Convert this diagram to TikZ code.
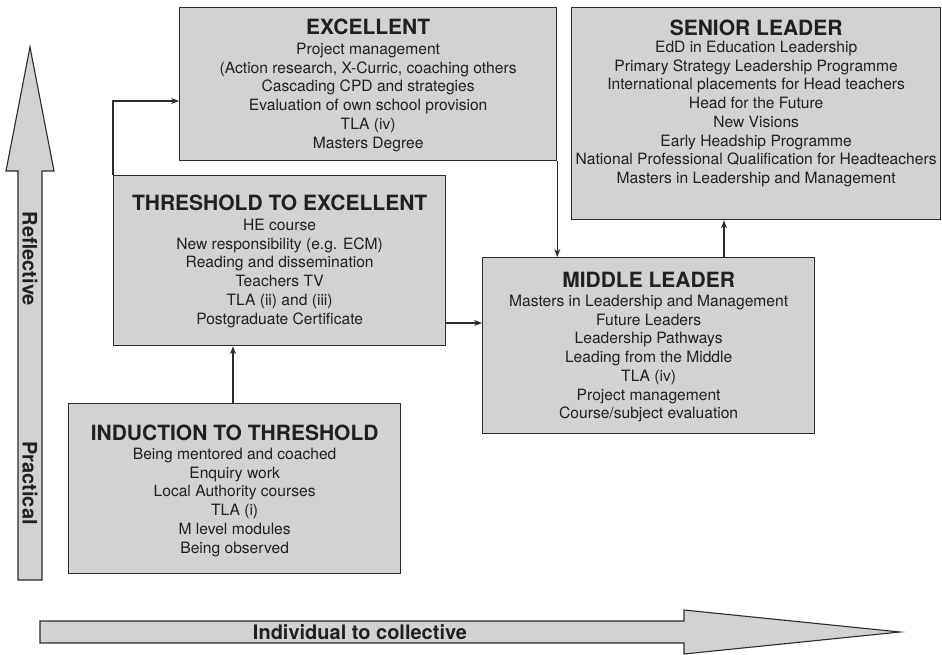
\documentclass[tikz,border=0pt]{standalone}
\usepackage{fontspec}
\setmainfont{TeX Gyre Heros}
\usetikzlibrary{arrows.meta}
\definecolor{boxfill}{HTML}{D1D2D4}
\definecolor{edgec}{HTML}{2B2B2B}
\definecolor{txt}{HTML}{231F20}
\begin{document}
\begin{tikzpicture}[x=1pt,y=-1pt,
  box/.style={draw=edgec,fill=boxfill,line width=1.3pt,inner sep=0,anchor=north west},
  ttl/.style={font=\fontsize{21}{23}\selectfont\bfseries,inner sep=0,text=txt},
  body/.style={font=\fontsize{15.6}{18.7}\selectfont,align=center,inner sep=0,anchor=north,text=txt},
  conn/.style={draw=edgec,line width=1.1pt,-{Stealth[length=8pt,width=6pt]}},
  bigarrow/.style={draw=edgec,fill=boxfill,line width=1.1pt,line join=miter},
  axislbl/.style={font=\fontsize{20}{22}\selectfont\bfseries,inner sep=0,text=txt}]
\useasboundingbox (0,0) rectangle (942,655);

% big arrows
\draw[bigarrow] (18,580) -- (18,171) -- (6,171) -- (30,47) -- (54,171) -- (42,171) -- (42,580) -- cycle;
\node[axislbl,rotate=-90] (refl) at (30,259) {Reflective};
\node[axislbl,rotate=-90] (prac) at (30,483) {Practical};
\draw[bigarrow] (40,621) -- (684,621) -- (684,610) -- (900,632) -- (684,654) -- (684,643) -- (40,643) -- cycle;
\node[axislbl] (indiv) at (360,632) {Individual to collective};

% boxes
\node[box,minimum width=377pt,minimum height=153pt] (exc) at (179,7) {};
\node[box,minimum width=369pt,minimum height=212pt] (sen) at (571,7) {};
\node[box,minimum width=332pt,minimum height=170pt] (thr) at (113,175) {};
\node[box,minimum width=332pt,minimum height=176pt] (mid) at (482,257) {};
\node[box,minimum width=332pt,minimum height=170pt] (ind) at (68,403) {};

% texts
\node[ttl] (excT) at (exc.north |- 0,27) {EXCELLENT};
\node[body] (excB) at (exc.north |- 0,43) {Project management\\(Action research, X-Curric, coaching others\\Cascading CPD and strategies\\Evaluation of own school provision\\TLA (iv)\\Masters Degree};

\node[ttl] (senT) at (sen.north |- 0,28) {SENIOR LEADER};
\node[body] (senB) at (sen.north |- 0,41) {EdD in Education Leadership\\Primary Strategy Leadership Programme\\International placements for Head teachers\\Head for the Future\\New Visions\\Early Headship Programme\\National Professional Qualification for Headteachers\\Masters in Leadership and Management};

\node[ttl] (thrT) at (thr.north |- 0,203) {THRESHOLD TO EXCELLENT};
\node[body] (thrB) at (thr.north |- 0,219) {HE course\\New responsibility (e.g. ECM)\\Reading and dissemination\\Teachers TV\\TLA (ii) and (iii)\\Postgraduate Certificate};

\node[ttl] (midT) at (mid.north |- 0,280) {MIDDLE LEADER};
\node[body] (midB) at (mid.north |- 0,295) {Masters in Leadership and Management\\Future Leaders\\Leadership Pathways\\Leading from the Middle\\TLA (iv)\\Project management\\Course/subject evaluation};

\node[ttl] (indT) at (ind.north |- 0,433) {INDUCTION TO THRESHOLD};
\node[body] (indB) at (ind.north |- 0,448) {Being mentored and coached\\Enquiry work\\Local Authority courses\\TLA (i)\\M level modules\\Being observed};

% connectors
\coordinate (bend) at (113,101);
\draw[conn] (thr.north west) -- (bend) -- (exc.west |- bend);
\draw[conn] (exc.south east) -- (exc.south east |- mid.north);
\coordinate (t2m) at (0,323);
\draw[conn] (thr.east |- t2m) -- (mid.west |- t2m);
\coordinate (i2t) at (233,0);
\draw[conn] (ind.north -| i2t) -- (thr.south -| i2t);
\coordinate (m2s) at (724,0);
\draw[conn] (mid.north -| m2s) -- (sen.south -| m2s);
\end{tikzpicture}
\end{document}
